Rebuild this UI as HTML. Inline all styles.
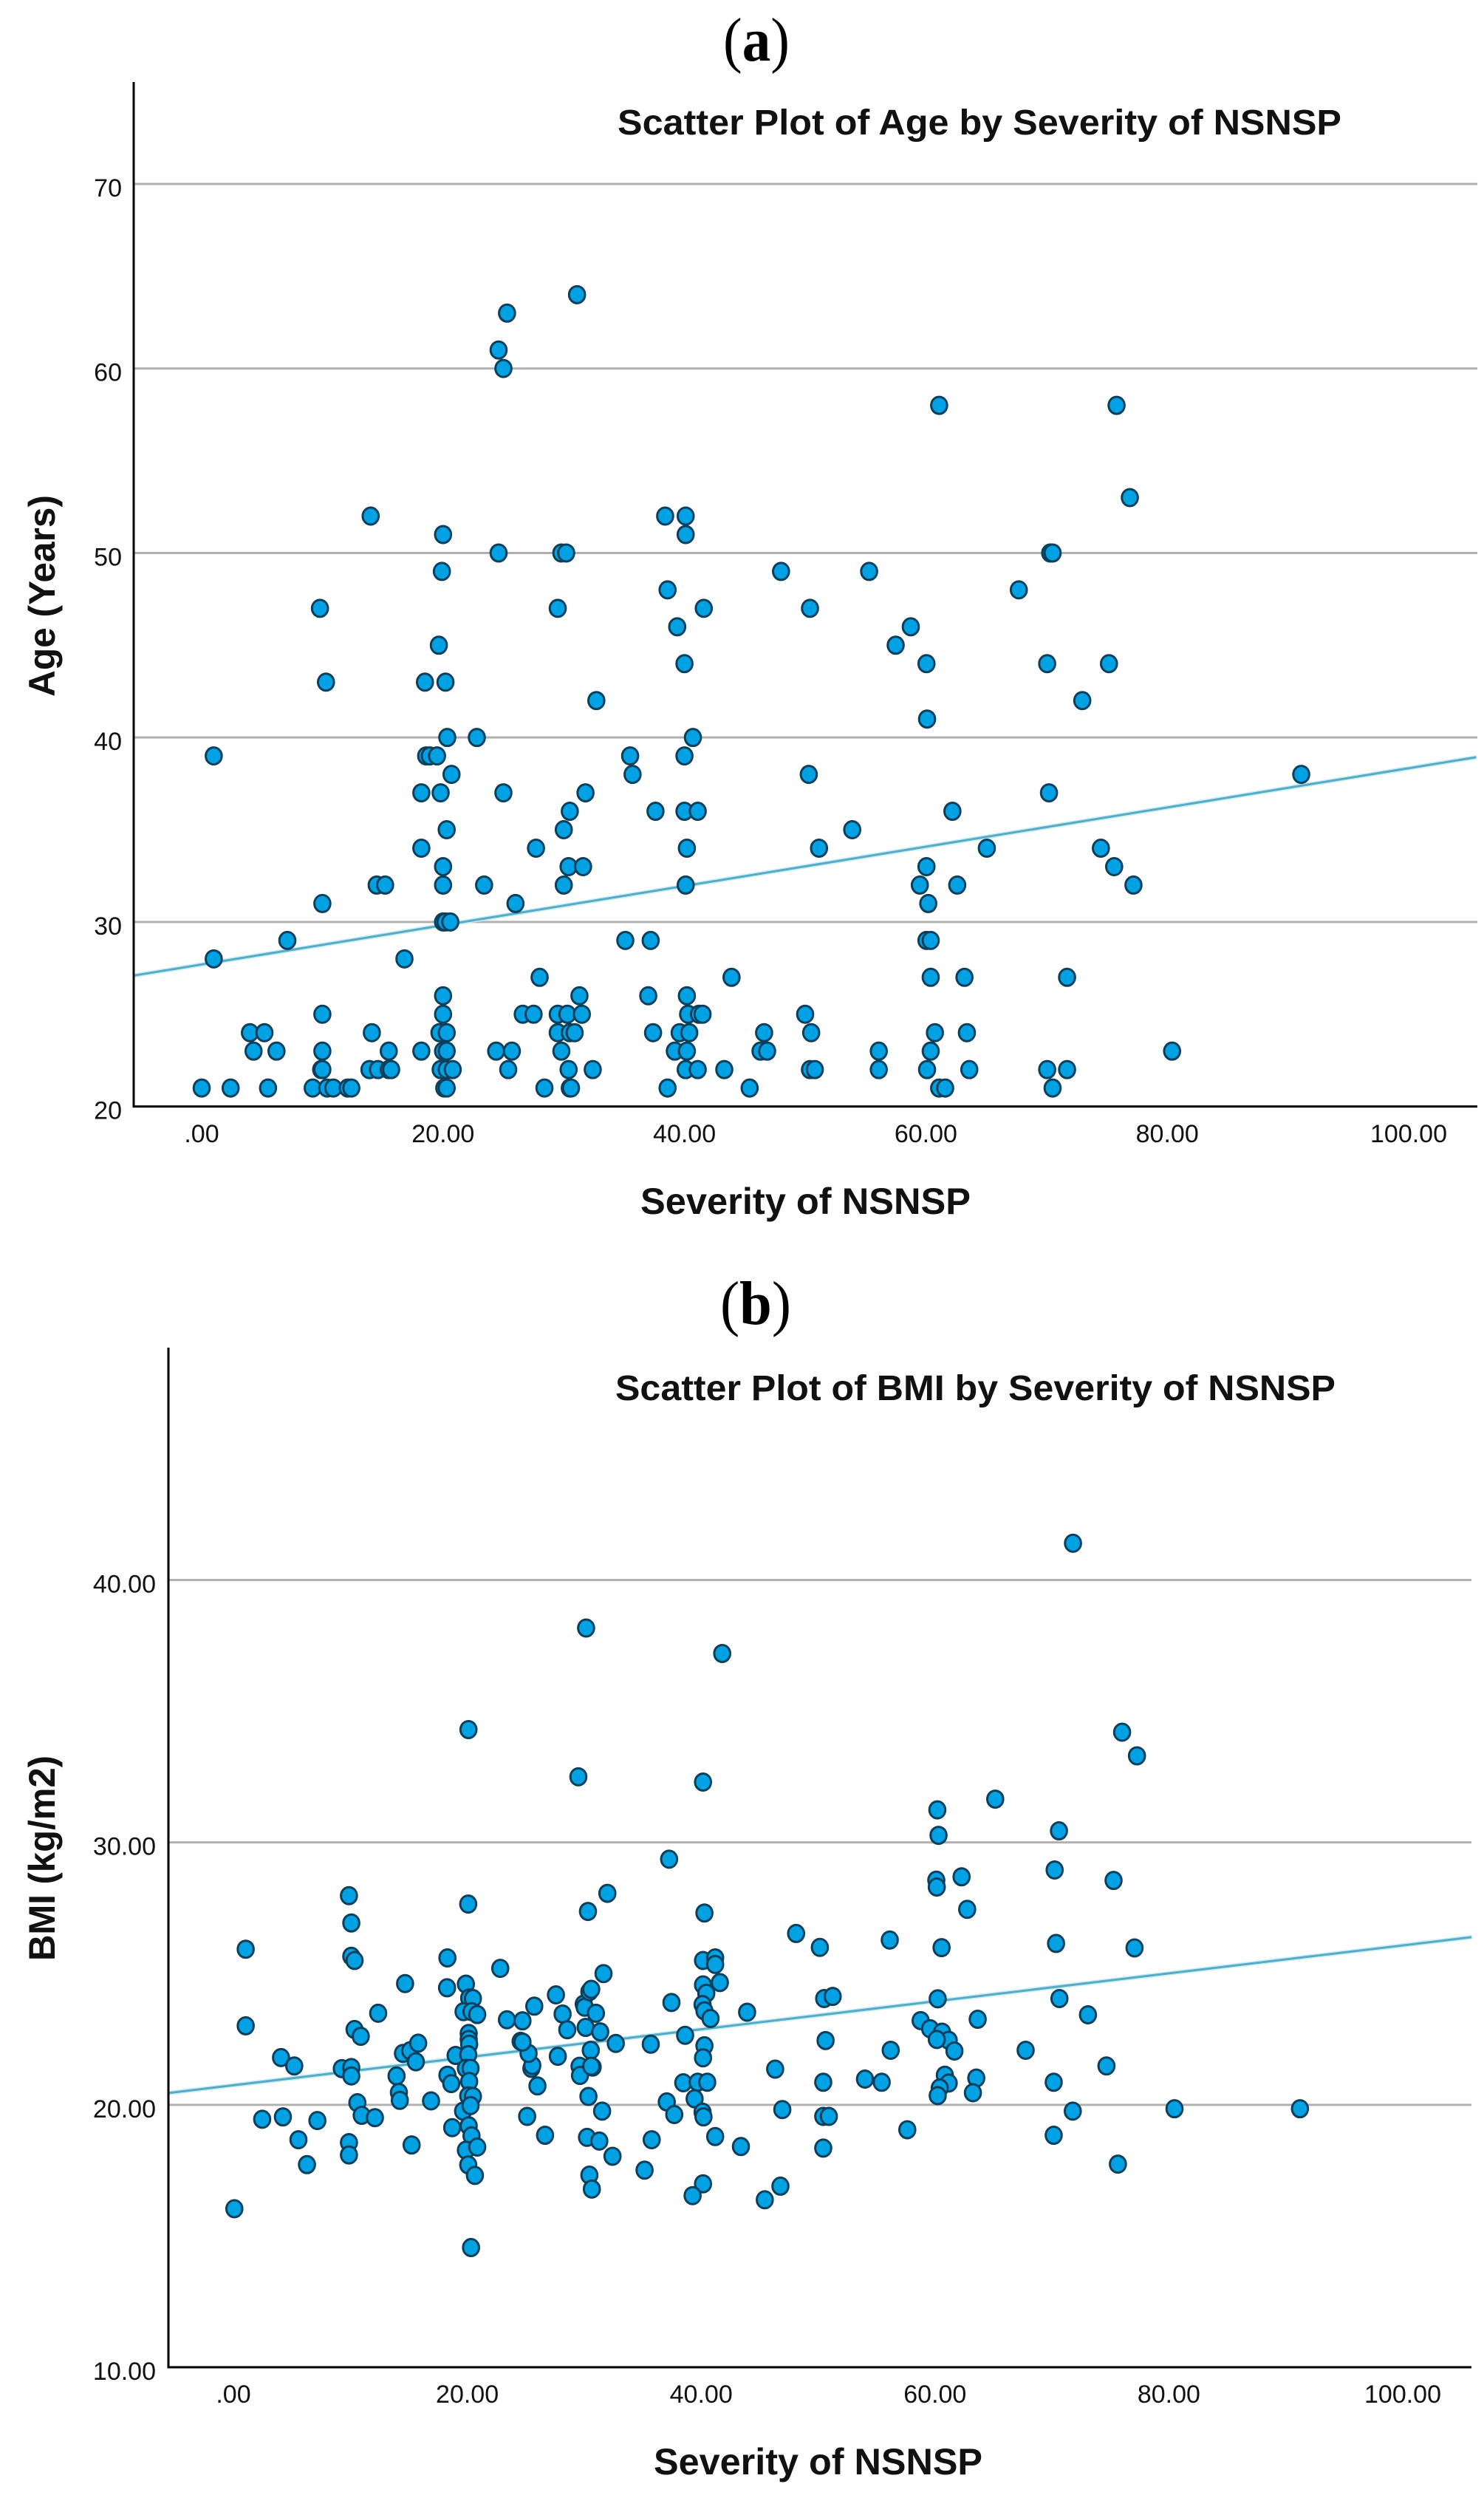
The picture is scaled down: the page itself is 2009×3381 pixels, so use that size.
<!DOCTYPE html>
<html lang="en">
<head>
<meta charset="utf-8">
<title>Scatter plots of Age and BMI by Severity of NSNSP</title>
<style>
html,body{margin:0;padding:0;background:#fff;}
svg{display:block;}
text{font-family:"Liberation Sans",Arial,sans-serif;fill:#111;}
.tick{font-size:34px;}
.title{font-size:48px;font-weight:bold;}
.axis-title{font-size:50px;font-weight:bold;}
.panel{font-family:"Liberation Serif","Times New Roman",serif;font-size:84px;fill:#000;}
</style>
</head>
<body>
<svg id="figure" xmlns="http://www.w3.org/2000/svg" width="2009" height="3381" viewBox="0 0 2009 3381">
  <rect x="0" y="0" width="2009" height="3381" fill="#fff"/>

  <text class="panel" x="979" y="82" textLength="90" lengthAdjust="spacingAndGlyphs">(<tspan font-weight="bold">a</tspan>)</text>
  <text class="panel" x="975" y="1792" textLength="96" lengthAdjust="spacingAndGlyphs">(<tspan font-weight="bold">b</tspan>)</text>

  <g id="chart-age"></g>
  <g id="chart-bmi"></g>

  <text class="title" x="836" y="182" textLength="980" lengthAdjust="spacingAndGlyphs">Scatter Plot of Age by Severity of NSNSP</text>
  <text class="axis-title" x="867" y="1643" textLength="447" lengthAdjust="spacingAndGlyphs">Severity of NSNSP</text>
  <text class="axis-title" transform="translate(74 943) rotate(-90)" x="0" y="0" textLength="273" lengthAdjust="spacingAndGlyphs">Age (Years)</text>

  <text class="title" x="833" y="1895" textLength="975" lengthAdjust="spacingAndGlyphs">Scatter Plot of BMI by Severity of NSNSP</text>
  <text class="axis-title" x="885" y="3349" textLength="445" lengthAdjust="spacingAndGlyphs">Severity of NSNSP</text>
  <text class="axis-title" transform="translate(74 2654) rotate(-90)" x="0" y="0" textLength="278" lengthAdjust="spacingAndGlyphs">BMI (kg/m2)</text>
</svg>

<script>
/* ---------- Shared x axis ---------- */
const severityTicks = [0, 20, 40, 60, 80, 100];
const severityTickLabels = [".00", "20.00", "40.00", "60.00", "80.00", "100.00"];

/* ---------- Chart (a): Age by severity ---------- */
const ageTicks = [20, 30, 40, 50, 60, 70];
const ageTickLabels = ["20", "30", "40", "50", "60", "70"];
const ageGridTicks = [30, 40, 50, 60, 70];
const ageTrendSeverity = [-5.6, 105.6];
const ageTrendYears = [27.1, 38.93];
const ageSeverity = [
  0,2.4,5.5,9.2,10.4,10.9,12.1,12.4,20.1,20.3,28.4,30.5,30.6,38.6,45.4,61.1,61.6,70.5,
  9.9,10,13.9,14.6,15.5,15.7,19.8,20.3,20.8,25.4,30.4,32.4,40.1,41.1,43.3,50.4,50.8,56.1,60.1,63.6,70.05,71.7,
  4.3,6.2,10,15.5,18.2,20,20.3,24.4,25.7,29.8,39.2,40.2,46.3,46.85,56.1,60.4,80.4,
  4,5.2,14.1,19.7,20.3,29.5,30.5,30.9,37.4,39.6,40.4,46.6,50.5,60.75,63.4,
  10,20,26.6,27.5,29.5,30.3,31.5,40.3,41.2,41.5,50,
  20,31.3,37,40.2,
  28,43.9,60.4,63.2,71.7,
  1,16.8,
  7.1,35.1,37.2,60.05,60.4,
  20,20.2,20.6,
  10,26,60.2,
  14.5,15.2,20,23.4,30,40.1,59.5,62.6,77.2,
  20,30.4,31.6,60.05,75.6,
  18.2,27.7,40.2,51.15,65.05,74.5,
  20.3,30,53.9,
  30.5,37.6,40,41.1,62.2,
  18.2,19.8,25,31.8,70.2,
  20.7,35.7,50.3,91.1,
  1,18.6,18.9,19.5,35.5,40,
  20.35,22.8,40.7,
  60.1,
  32.7,72.96,
  10.3,18.5,20.2,
  40,60.05,70.05,75.17,
  19.65,57.5,
  39.4,58.75,
  9.8,29.5,41.6,50.4,
  38.6,67.7,
  19.9,48,55.3,
  24.6,29.8,30.2,70.3,70.5,
  20,40.1,
  14,38.4,40.1,
  76.9,
  61.1,75.8,
  25,
  24.6,
  25.3,
  31.1
];
const ageYears = [
  21,21,21,21,21,21,21,21,21,21,21,21,21,21,21,21,21,21,
  22,22,22,22,22,22,22,22,22,22,22,22,22,22,22,22,22,22,22,22,22,22,
  23,23,23,23,23,23,23,23,23,23,23,23,23,23,23,23,23,
  24,24,24,24,24,24,24,24,24,24,24,24,24,24,24,
  25,25,25,25,25,25,25,25,25,25,25,
  26,26,26,26,
  27,27,27,27,27,
  28,28,
  29,29,29,29,29,
  30,30,30,
  31,31,31,
  32,32,32,32,32,32,32,32,32,
  33,33,33,33,33,
  34,34,34,34,34,34,
  35,35,35,
  36,36,36,36,36,
  37,37,37,37,37,
  38,38,38,38,
  39,39,39,39,39,39,
  40,40,40,
  41,
  42,42,
  43,43,43,
  44,44,44,44,
  45,45,
  46,46,
  47,47,47,47,
  48,48,
  49,49,49,
  50,50,50,50,50,
  51,51,
  52,52,52,
  53,
  58,58,
  60,
  61,
  63,
  64
];

/* ---------- Chart (b): BMI by severity ---------- */
const bmiTicks = [10, 20, 30, 40];
const bmiTickLabels = ["10.00", "20.00", "30.00", "40.00"];
const bmiGridTicks = [20, 30, 40];
const bmiTrendSeverity = [-5.56, 105.9];
const bmiTrendValues = [20.45, 26.39];
const bmiSeverity = [
  30.16,41.8,20.1,29.5,40.16,37.26,71.8,76,77.27,65.15,60.2,60.3,70.6,
  9.88,10.08,10.08,10.36,20.08,30.32,31.98,40.28,1.05,1.05,18.3,22.82,14.68,18.27,19.88,20.16,20.48,
  19.68,20.36,20.85,12.38,23.39,24.72,25.73,27.58,28.15,28.55,29.96,30.04,30.44,30.6,31,30.12,31.37,31.65,
  32.7,35.69,37.46,38.63,40.16,41.2,41.2,40.16,41.6,40.44,40.12,40.28,40.8,40.28,40.16,38.47,39.7,40.52,
  39.44,37.06,37.7,40.12,40.2,41.2,35.77,35.16,40.16,39.27,30.44,30.65,32.42,30.24,31.29,26.65,25.12,31.53,
  30.36,26,25.48,25.56,25.24,24.56,24.72,27.74,30.56,29.6,29.64,30.72,30.6,10.36,10.89,4.07,5.2,9.27,10.08,
  10.08,14.5,15.12,15.8,15.6,13.95,14.15,14.23,16.9,18.3,18.63,19,20.12,20.12,20.16,20.08,19.88,20.28,20.16,
  20.08,20.48,19.64,20.28,20.12,18.71,20.36,19.88,20.85,20.08,20.65,20.32,0.08,2.46,4.23,7.18,5.56,6.29,
  9.88,9.88,10.6,10.97,12.1,15.24,
  60.11,60.15,62.27,70.23,75.27,62.75,48.12,50.15,56.13,60.56,70.35,77.06,43.93,50.52,51.25,60.23,70.64,
  63.65,73.08,58.77,59.58,60.6,61.17,60.15,61.66,50.64,56.21,67.75,46.33,74.66,60.84,63.53,54.01,55.44,
  50.44,70.15,61.17,60.4,60.23,63.24,46.94,50.44,50.92,71.78,80.48,91.21,57.63,70.15,50.44,43.4,75.64,46.78,45.44
];
const bmiValues = [
  38.17,37.2,34.3,32.5,32.3,29.36,41.4,34.2,33.3,31.65,31.24,30.27,30.44,
  27.97,26.93,25.66,25.5,27.65,27.37,28.06,27.31,25.93,23.01,25.6,25.2,24.62,24.46,24.6,24.07,24.05,
  23.55,23.55,23.44,23.49,23.24,23.2,23.76,24.19,23.46,22.86,23.84,23.72,24.31,24.4,23.49,22.95,22.78,25,
  22.34,22.31,23.9,22.65,25.5,25.6,25.35,24.57,24.66,24.25,23.82,23.58,23.29,22.25,21.79,20.84,20.86,20.86,
  20.23,20.11,19.63,19.72,19.54,18.79,18.67,17.51,16.99,16.54,17.32,16.79,18.04,18.76,18.62,18.84,19.56,19.76,
  20.32,20.72,21.39,21.5,21.96,22.42,22.39,21.85,22.08,21.47,21.12,21.44,21.47,22.87,22.61,21.8,21.48,21.38,21.42,
  21.1,21.96,22.06,22.35,21.64,21.1,20.47,20.17,20.15,21.13,20.81,21.88,22.72,22.49,22.31,21.91,21.39,21.39,20.89,
  20.34,20.32,19.76,19.97,19.2,19.13,18.82,18.27,18.39,17.71,17.31,14.56,16.04,19.45,19.54,19.4,18.67,17.72,
  18.56,18.09,20.08,19.6,19.51,18.47,
  28.56,28.3,28.69,28.95,28.55,27.45,26.53,26,26.28,25.99,26.15,25.98,23.53,24.05,24.13,24.04,24.05,
  23.26,23.43,23.21,22.9,22.77,22.46,22.49,22.05,22.45,22.08,22.08,21.36,21.48,21.13,21.02,20.98,20.86,
  20.86,20.86,20.83,20.64,20.35,20.46,19.82,19.56,19.56,19.76,19.85,19.85,19.05,18.84,18.35,18.41,17.74,16.9,16.38
];

/* ---------- Drawing ---------- */
const SVG_NS = "http://www.w3.org/2000/svg";

function addEl(parent, tag, attrs) {
  const el = document.createElementNS(SVG_NS, tag);
  for (const key in attrs) el.setAttribute(key, attrs[key]);
  parent.appendChild(el);
  return el;
}

function linearScale(v0, p0, v1, p1) {
  return function (v) { return p0 + (v - v0) * (p1 - p0) / (v1 - v0); };
}

function drawChart(cfg) {
  const g = document.getElementById(cfg.id);
  const x = cfg.x;
  const y = cfg.y;

  cfg.grid.forEach(function (t) {
    const line = addEl(g, "line", {x1: cfg.left, x2: cfg.right, y1: y(t), y2: y(t), stroke: "#b0b0b0", "stroke-width": 3});
    
    
  });

  const halo = addEl(g, "line", {x1: x(cfg.trendX[0]), y1: y(cfg.trendY[0]), x2: x(cfg.trendX[1]), y2: y(cfg.trendY[1]), stroke: "#c4f0fb", "stroke-width": 6});
  
  
  const trend = addEl(g, "line", {x1: x(cfg.trendX[0]), y1: y(cfg.trendY[0]), x2: x(cfg.trendX[1]), y2: y(cfg.trendY[1]), stroke: "#5aaac4", "stroke-width": 3});
  
  

  cfg.px.forEach(function (v, i) {
    const dot = addEl(g, "ellipse", {cx: x(v), cy: y(cfg.py[i]), rx: 10.8, ry: 11.5, fill: "#00a2e4", stroke: "#0b3f5c", "stroke-width": 3});
    
    
  });

  const yAxis = addEl(g, "line", {x1: cfg.left, x2: cfg.left, y1: cfg.top, y2: y(cfg.yMin) + 1.5, stroke: "#000", "stroke-width": 3});
  
  
  const xAxis = addEl(g, "line", {x1: cfg.left, x2: cfg.right, y1: y(cfg.yMin), y2: y(cfg.yMin), stroke: "#000", "stroke-width": 3});
  
  

  cfg.yTicks.forEach(function (t, i) {
    const label = addEl(g, "text", {class: "tick", x: cfg.left - cfg.yLabelGap, y: y(t) + 17, "text-anchor": "end"});
    label.textContent = cfg.yLabels[i];
    
    
  });

  severityTicks.forEach(function (t, i) {
    const label = addEl(g, "text", {class: "tick", x: x(t), y: cfg.xLabelY, "text-anchor": "middle"});
    label.textContent = severityTickLabels[i];
    
    
  });
}

drawChart({
  id: "chart-age",
  left: 181, right: 2000, top: 111,
  x: linearScale(0, 273, 100, 1907),
  y: linearScale(20, 1497.6, 70, 249),
  yMin: 20,
  grid: ageGridTicks, yTicks: ageTicks, yLabels: ageTickLabels,
  trendX: ageTrendSeverity, trendY: ageTrendYears,
  px: ageSeverity, py: ageYears,
  yLabelGap: 16, xLabelY: 1546
});

drawChart({
  id: "chart-bmi",
  left: 228, right: 1992, top: 1824,
  x: linearScale(0, 316, 100, 1899),
  y: linearScale(10, 3204, 40, 2138.5),
  yMin: 10,
  grid: bmiGridTicks, yTicks: bmiTicks, yLabels: bmiTickLabels,
  trendX: bmiTrendSeverity, trendY: bmiTrendValues,
  px: bmiSeverity, py: bmiValues,
  yLabelGap: 17, xLabelY: 3252
});
</script>
</body>
</html>
